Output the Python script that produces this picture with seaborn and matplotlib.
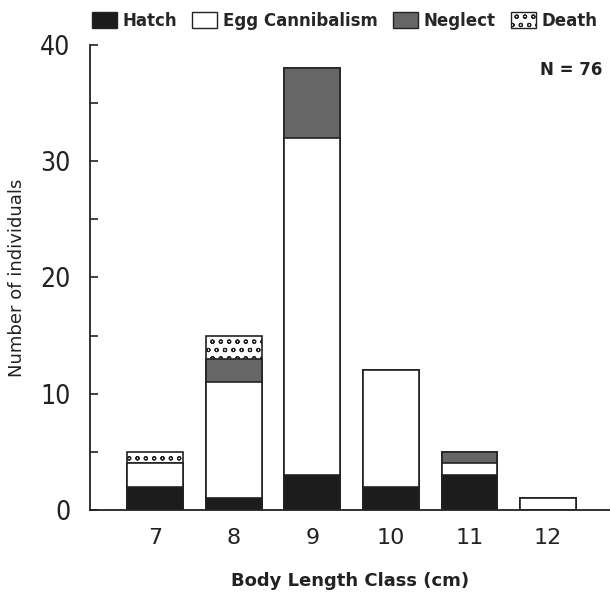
import matplotlib
matplotlib.use("Agg")
import matplotlib.pyplot as plt
import seaborn as sns
import pandas as pd
import numpy as np
from matplotlib.patches import Patch
from matplotlib.ticker import MultipleLocator

# data
size_classes = ['7', '8', '9', '10', '11', '12']
hatch = [2, 1, 3, 2, 3, 0]
egg_cannibalism = [2, 10, 29, 10, 1, 1]
neglect = [0, 2, 6, 0, 1, 0]
death = [1, 2, 0, 0, 0, 0]

sns.set_style("white")
plt.rcParams['font.family'] = ['DejaVu Sans']
plt.rcParams['hatch.linewidth'] = 0.8

df = pd.DataFrame({'cls': size_classes, 'Hatch': hatch, 'Egg Cannibalism': egg_cannibalism,
                   'Neglect': neglect, 'Death': death})
df['c1'] = df['Hatch']
df['c2'] = df['c1'] + df['Egg Cannibalism']
df['c3'] = df['c2'] + df['Neglect']
df['c4'] = df['c3'] + df['Death']

fig = plt.figure(figsize=(6.1, 5.94), dpi=100)
ax = fig.add_axes([0.1475, 0.1414, 0.8525, 0.783])

width = 0.71
# overlay cumulative totals, tallest first
layers = [('c4', 'white', 'oo'), ('c3', '#666666', None), ('c2', 'white', None), ('c1', '#1c1c1c', None)]
for col, color, hp in layers:
    sns.barplot(data=df, x='cls', y=col, order=size_classes, color=color, width=width,
                edgecolor='#222222', linewidth=1.2, hatch=hp, saturation=1, ax=ax)

ax.set_xlim(-0.83, 5.79)
ax.set_ylim(0, 40)
ax.yaxis.set_major_locator(MultipleLocator(10))
ax.yaxis.set_minor_locator(MultipleLocator(5))
ax.tick_params(axis='y', which='both', direction='in', left=True, length=6, width=1.2,
               pad=14, labelsize=19, colors='#222222')
ax.tick_params(axis='x', length=0, pad=13, labelsize=16, colors='#222222')
for lbl in ax.get_yticklabels():
    lbl.set_fontstretch('condensed')

for s in ['top', 'right']:
    ax.spines[s].set_visible(False)
for s in ['left', 'bottom']:
    ax.spines[s].set_color('#222222')
    ax.spines[s].set_linewidth(1.3)

ax.set_xlabel('Body Length Class (cm)', fontsize=13, fontweight='bold', labelpad=17, color='#222222')
ax.set_ylabel('Number of individuals', fontsize=13, labelpad=10, color='#222222')

ax.text(0.985, 0.945, 'N = 76', transform=ax.transAxes, ha='right', va='center',
        fontsize=12, fontweight='bold', color='#222222')

handles = [Patch(facecolor='#1c1c1c', edgecolor='#222222', label='Hatch'),
           Patch(facecolor='white', edgecolor='#222222', label='Egg Cannibalism'),
           Patch(facecolor='#666666', edgecolor='#222222', label='Neglect'),
           Patch(facecolor='white', edgecolor='#222222', hatch='oo', label='Death')]
leg = fig.legend(handles=handles, loc='upper center', bbox_to_anchor=(0.565, 1.005), ncol=4,
                 frameon=False, handlelength=1.5, handleheight=1.1, handletextpad=0.35,
                 columnspacing=0.9, prop={'size': 12, 'weight': 'bold'})

fig.savefig('out.png', dpi=100, facecolor='white')
